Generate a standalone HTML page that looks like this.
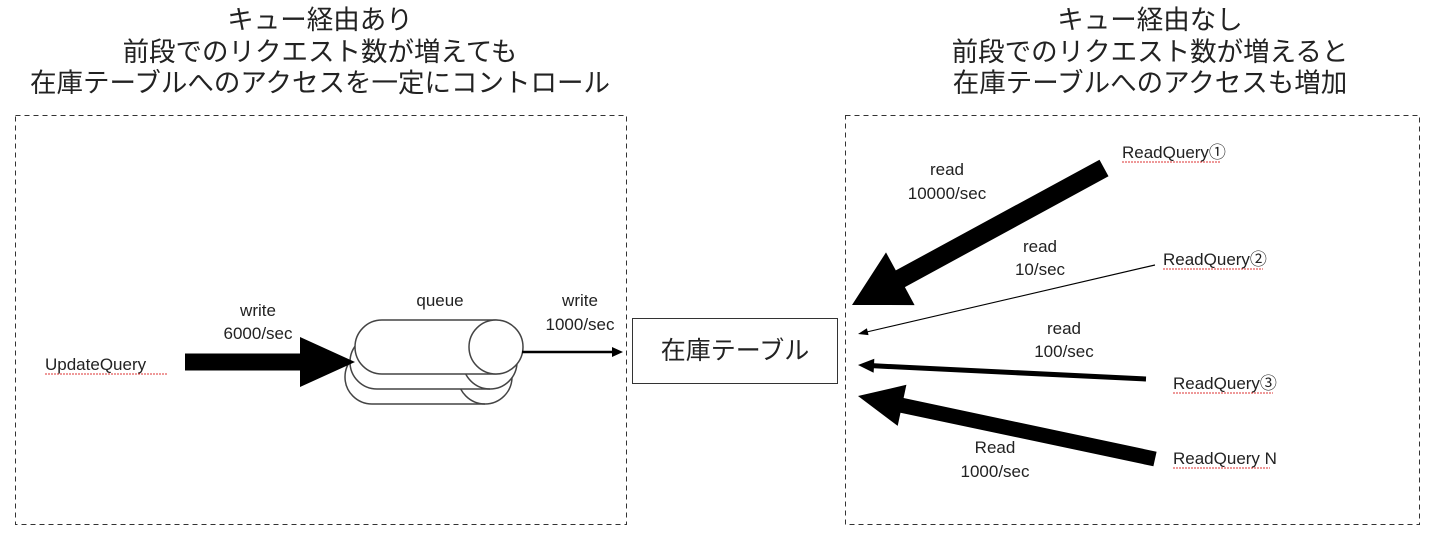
<!DOCTYPE html>
<html><head><meta charset="utf-8"><style>
html,body{margin:0;padding:0;background:#fff;width:1440px;height:539px;overflow:hidden}
svg{display:block}
text{font-family:"Liberation Sans","Noto Sans CJK JP",sans-serif;fill:#222}
</style></head><body>
<svg id="s" width="1440" height="539" viewBox="0 0 1440 539">
<g font-size="26.5" text-anchor="middle" fill="#222">
<text x="320" y="29">キュー経由あり</text>
<text x="320" y="61">前段でのリクエスト数が増えても</text>
<text x="320" y="92">在庫テーブルへのアクセスを一定にコントロール</text>
<text x="1150" y="29">キュー経由なし</text>
<text x="1150" y="61">前段でのリクエスト数が増えると</text>
<text x="1150" y="92">在庫テーブルへのアクセスも増加</text>
</g>
<rect x="15.5" y="115.5" width="611" height="409" fill="none" stroke="#333" stroke-dasharray="5,4"/>
<rect x="845.5" y="115.5" width="574" height="409" fill="none" stroke="#333" stroke-dasharray="5,4"/>
<rect x="632.5" y="318.5" width="205" height="65" fill="#fff" stroke="#333"/>
<text x="735" y="359" font-size="25" text-anchor="middle">在庫テーブル</text>
<!-- queue cylinders -->
<g fill="#fff" stroke="#444" stroke-width="1.5">
<rect x="345" y="350" width="167" height="54" rx="27"/>
<path d="M485,350 A27,27 0 0 0 485,404" fill="none"/>
<rect x="350" y="335" width="167" height="54" rx="27"/>
<path d="M490,335 A27,27 0 0 0 490,389" fill="none"/>
<rect x="355" y="320" width="167" height="54" rx="27"/>
<circle cx="496" cy="347" r="27"/>
</g>
<line x1="522" y1="352" x2="615" y2="352" stroke="#000" stroke-width="2.5"/>
<polygon points="623,352 612,347 612,357" fill="#000"/>
<g font-size="17" text-anchor="middle">
<text x="258" y="316">write</text><text x="258" y="339">6000/sec</text>
<text x="440" y="306">queue</text>
<text x="580" y="306">write</text><text x="580" y="330">1000/sec</text>
<text x="947" y="175">read</text><text x="947" y="199">10000/sec</text>
<text x="1040" y="252">read</text><text x="1040" y="275">10/sec</text>
<text x="1064" y="334">read</text><text x="1064" y="357">100/sec</text>
<text x="995" y="453">Read</text><text x="995" y="477">1000/sec</text>
</g>
<g font-size="17">
<text x="45" y="370">UpdateQuery</text>
<text x="1122" y="158">ReadQuery①</text>
<text x="1163" y="265">ReadQuery②</text>
<text x="1173" y="389">ReadQuery③</text>
<text x="1173" y="464">ReadQuery N</text>
</g>
<g stroke="#d33" stroke-width="1" fill="none" stroke-dasharray="2,1">
<line x1="45" y1="374" x2="168" y2="374"/>
<line x1="1122" y1="162" x2="1220" y2="162"/>
<line x1="1163" y1="269" x2="1263" y2="269"/>
<line x1="1173" y1="393" x2="1273" y2="393"/>
<line x1="1173" y1="468" x2="1270" y2="468"/>
</g>
<g id="arr" fill="#000"></g>
</svg>
<script>
function arrow(x1,y1,x2,y2,t,hw,hl){
 var dx=x2-x1,dy=y2-y1,L=Math.hypot(dx,dy),ux=dx/L,uy=dy/L,px=-uy,py=ux;
 var bx=x2-ux*hl,by=y2-uy*hl;
 var p=[[x1+px*t/2,y1+py*t/2],[bx+px*t/2,by+py*t/2],[bx+px*hw/2,by+py*hw/2],[x2,y2],[bx-px*hw/2,by-py*hw/2],[bx-px*t/2,by-py*t/2],[x1-px*t/2,y1-py*t/2]];
 var e=document.createElementNS("http://www.w3.org/2000/svg","polygon");
 e.setAttribute("points",p.map(function(q){return q[0].toFixed(1)+","+q[1].toFixed(1)}).join(" "));
 document.getElementById("arr").appendChild(e);
}
arrow(185,362,355,362,17,50,55);
arrow(1104,168,852,305,19,60,55);
arrow(1155,265,858,334,1.2,7,10);
arrow(1146,379,858,365,5,14,16);
arrow(1155,459,858,396,15,42,45);
</script>
</body></html>
